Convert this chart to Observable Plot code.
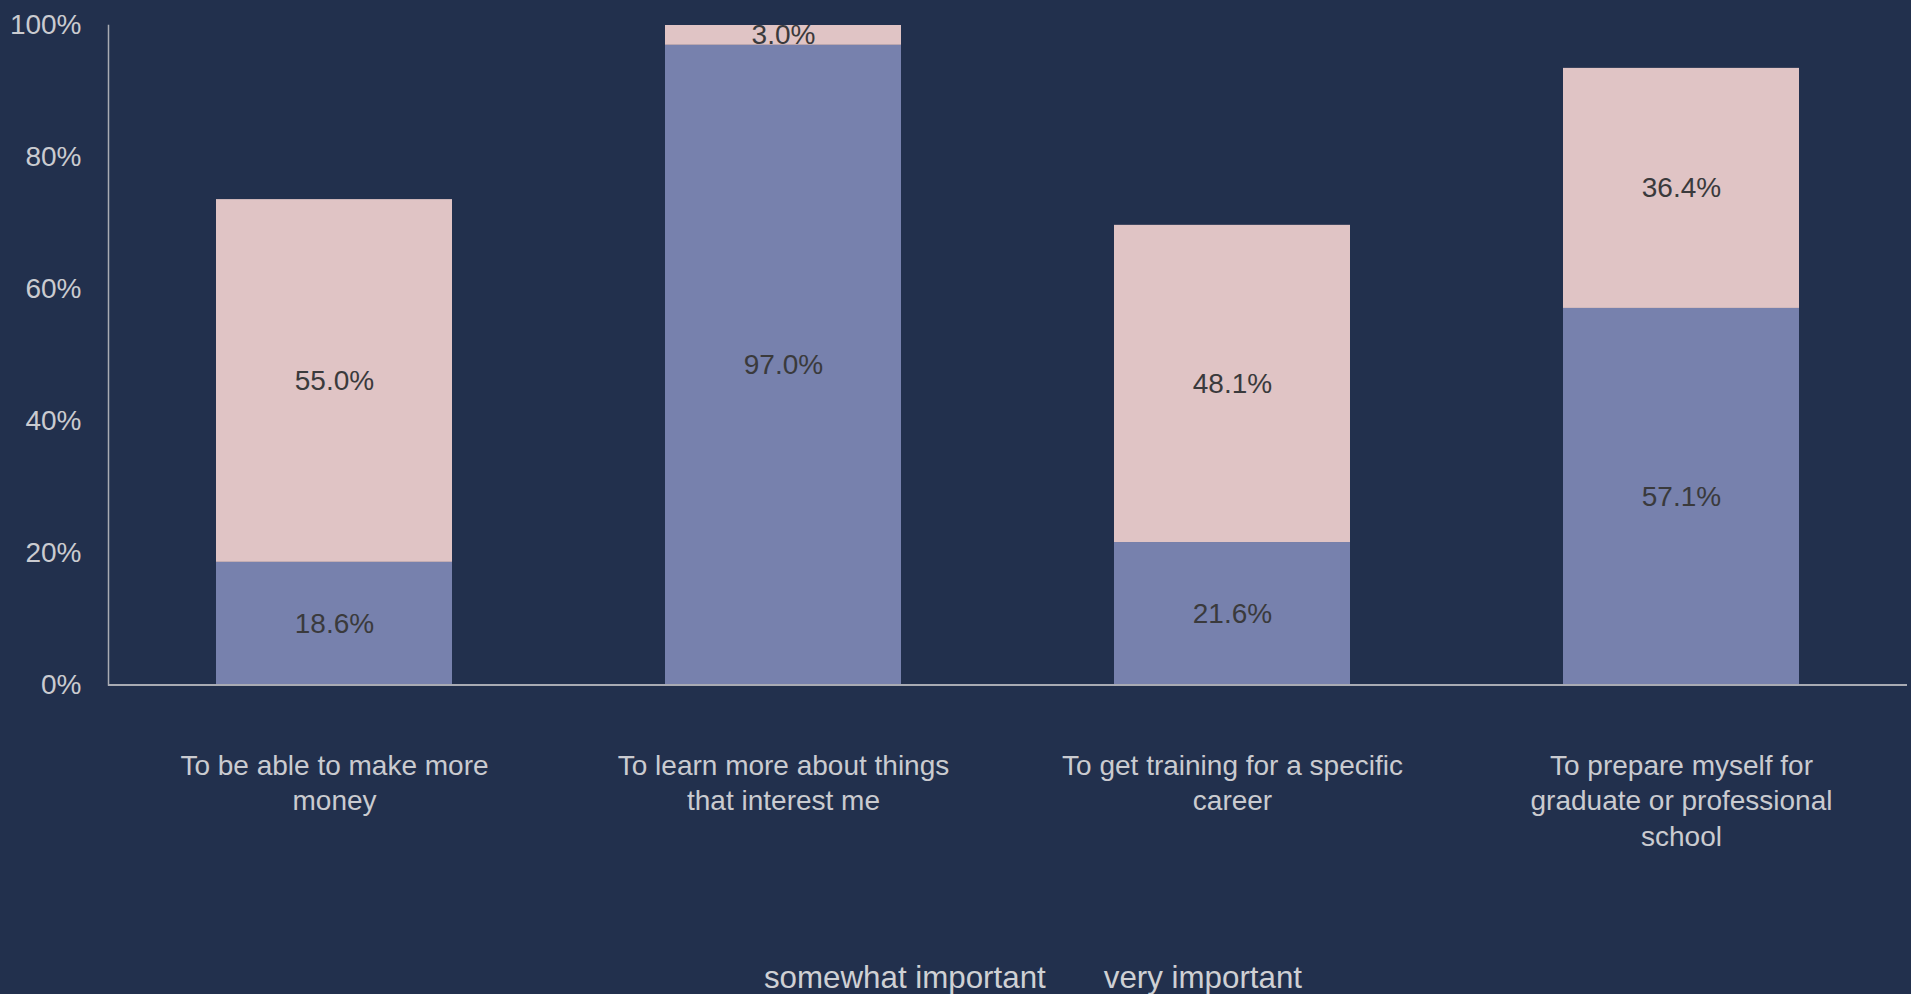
<!DOCTYPE html>
<html>
<head>
<meta charset="utf-8">
<script src="https://cdn.jsdelivr.net/npm/d3@7"></script>
<script src="https://cdn.jsdelivr.net/npm/@observablehq/plot@0.6"></script>
<style>
  html, body { margin: 0; padding: 0; background: #22304d; }
  #chart svg { display: block; }
  #legend {
    height: 40px; line-height: 48px; display: flex; justify-content: center;
    gap: 58px; padding-left: 155px;
    font-family: "Liberation Sans", Arial, sans-serif;
    font-size: 31.3px; color: #cfd0d4;
  }
</style>
</head>
<body>
<div id="chart"></div>
<div id="legend"></div>
<script>
const categories = [
  "To be able to make more money",
  "To learn more about things that interest me",
  "To get training for a specific career",
  "To prepare myself for graduate or professional school"
];
const categoryLabels = [
  "To be able to make more\nmoney",
  "To learn more about things\nthat interest me",
  "To get training for a specific\ncareer",
  "To prepare myself for\ngraduate or professional\nschool"
];
const seriesNames = ["somewhat important", "very important"];
const somewhatImportant = [18.6, 97.0, 21.6, 57.1];
const veryImportant = [55.0, 3.0, 48.1, 36.4];
const yTicks = [0, 20, 40, 60, 80, 100];
const seriesColors = ["#7781ad", "#e0c4c5"];

const data = [];
categories.forEach((c, i) => data.push({category: c, series: seriesNames[0], value: somewhatImportant[i]}));
categories.forEach((c, i) => data.push({category: c, series: seriesNames[1], value: veryImportant[i]}));
const labelOf = new Map(categories.map((c, i) => [c, categoryLabels[i]]));

const chart = Plot.plot({
  width: 1911,
  height: 954,
  marginTop: 25,
  marginBottom: 269.5,
  marginLeft: 108,
  marginRight: 4,
  style: {background: "transparent", fontFamily: "'Liberation Sans', Arial, sans-serif"},
  x: {domain: categories, paddingInner: 0.475, paddingOuter: 0.2375, align: 0.5},
  y: {domain: [0, 100]},
  color: {domain: seriesNames, range: seriesColors},
  marks: [
    Plot.barY(data, {x: "category", y: "value", fill: "series"}),
    Plot.text(data, Plot.stackY({
      x: "category", y: "value", z: "series",
      text: d => d.value.toFixed(1) + "%",
      fill: "#3a3a3c", fontSize: 28
    })),
    Plot.axisY({ticks: yTicks, tickFormat: d => d + "%", tickSize: 0, tickPadding: 27,
      fontSize: 28, color: "#cacbd0", label: null}),
    Plot.axisX({tickSize: 0, tickPadding: 65, fontSize: 28, lineHeight: 1.26,
      color: "#cacbd0", label: null, tickFormat: d => labelOf.get(d)}),
    Plot.frame({anchor: "left", stroke: "#a9abb3", strokeWidth: 1.5}),
    Plot.ruleY([0], {stroke: "#a9abb3", strokeWidth: 2})
  ]
});
document.getElementById("chart").appendChild(chart);

const legend = document.getElementById("legend");
seriesNames.forEach(s => {
  const span = document.createElement("span");
  span.textContent = s;
  legend.appendChild(span);
});
</script>
</body>
</html>
